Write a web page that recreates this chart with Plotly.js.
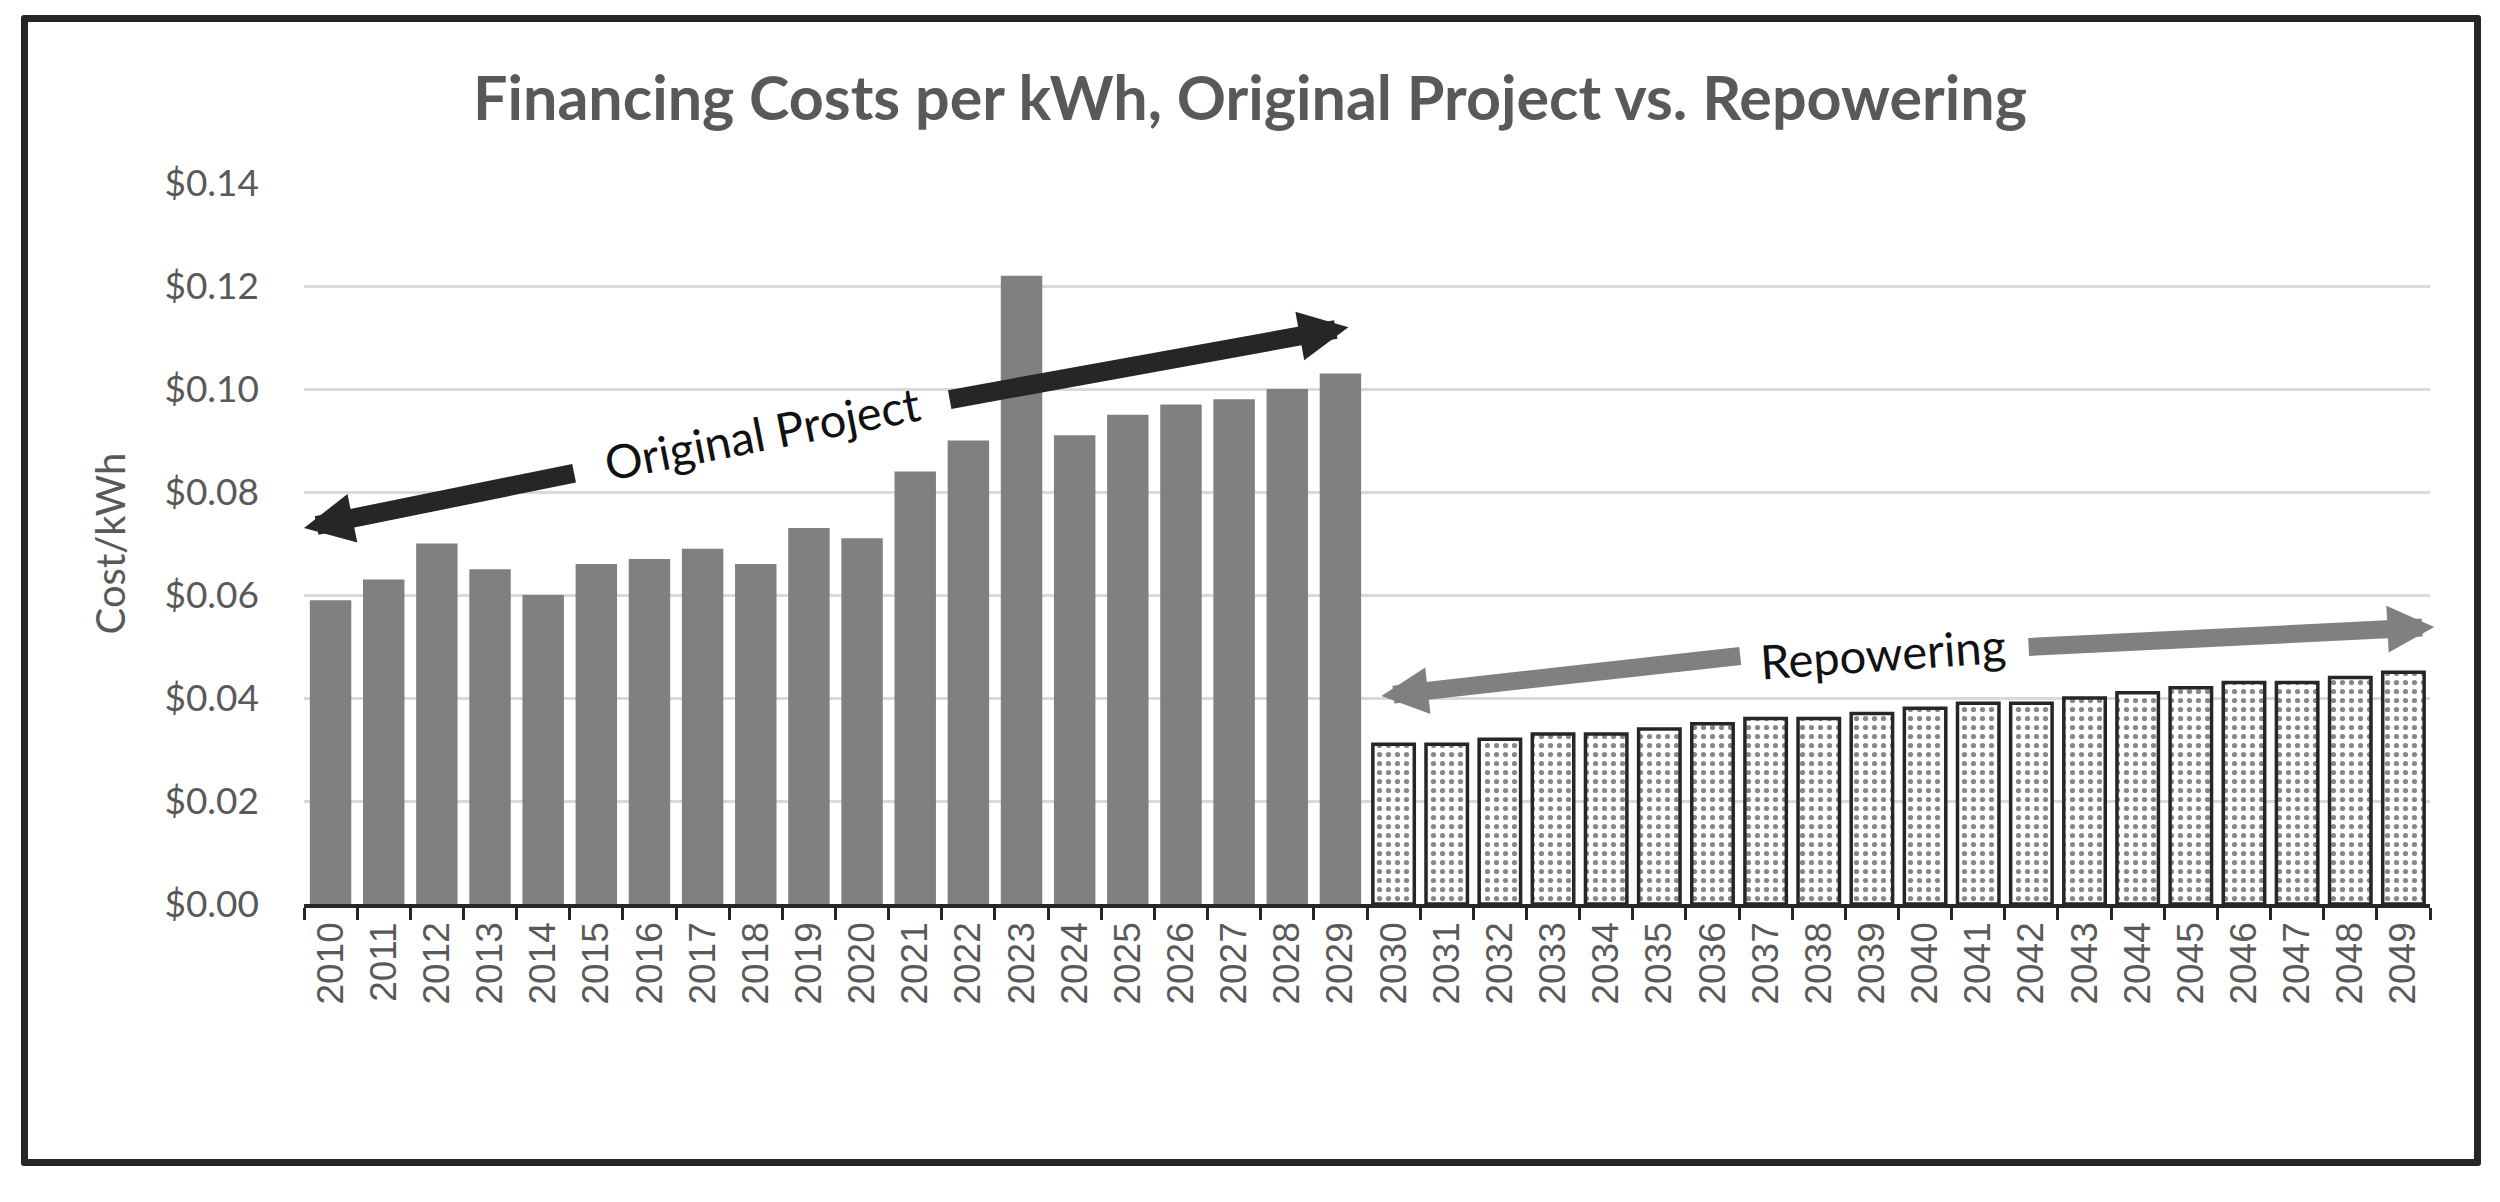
<!DOCTYPE html>
<html>
<head>
<meta charset="utf-8">
<script src="https://cdn.plot.ly/plotly-3.0.1.min.js"></script>
<style>
  html, body { margin: 0; padding: 0; background: #fff; }
  #chart { width: 2500px; height: 1202px; }
  #frame {
    position: absolute; left: 21px; top: 15px;
    width: 2446px; height: 1137px;
    border: 7px solid #262626; border-radius: 3px;
    pointer-events: none;
  }
</style>
</head>
<body>
<div id="chart"></div>
<div id="frame"></div>
<script>
// years and costs ($ per kWh)
const originalYears = ['2010', '2011', '2012', '2013', '2014', '2015', '2016', '2017', '2018', '2019',
                       '2020', '2021', '2022', '2023', '2024', '2025', '2026', '2027', '2028', '2029'];
const originalCost = [0.059, 0.063, 0.070, 0.065, 0.060, 0.066, 0.067, 0.069, 0.066, 0.073,
                      0.071, 0.084, 0.090, 0.122, 0.091, 0.095, 0.097, 0.098, 0.100, 0.103];

const repoweringYears = ['2030', '2031', '2032', '2033', '2034', '2035', '2036', '2037', '2038', '2039',
                         '2040', '2041', '2042', '2043', '2044', '2045', '2046', '2047', '2048', '2049'];
const repoweringCost = [0.031, 0.031, 0.032, 0.033, 0.033, 0.034, 0.035, 0.036, 0.036, 0.037,
                        0.038, 0.039, 0.039, 0.040, 0.041, 0.042, 0.043, 0.043, 0.044, 0.045];

const grey = '#595959';
const dark = '#262626';

const originalBars = {
    type: 'bar',
    x: originalYears,
    y: originalCost,
    name: 'Original Project',
    marker: { color: '#808080', line: { width: 0 } }
};

const repoweringBars = {
    type: 'bar',
    x: repoweringYears,
    y: repoweringCost,
    name: 'Repowering',
    marker: {
        color: '#ffffff',
        line: { color: dark, width: 3.5 },
        pattern: { shape: '.', fgcolor: '#888888', bgcolor: '#ffffff', size: 9, solidity: 0.26 }
    }
};

// double-headed arrows drawn as two half arrows with the label in the gap
function halfArrow(x, y, ax, ay, color, width) {
    return {
        x, y, ax, ay, xref: 'x', yref: 'y', axref: 'x', ayref: 'y',
        text: '', showarrow: true, arrowhead: 2, arrowsize: 0.52,
        arrowwidth: width, arrowcolor: color, standoff: 0, startstandoff: 0
    };
}

function arrowLabel(x, y, text, angle) {
    return {
        x, y, xref: 'x', yref: 'y', text, showarrow: false, textangle: angle,
        font: { family: 'Lato', size: 47, color: '#111111' }
    };
}

const annotations = [
    halfArrow(-0.5, 0.0730, 4.61, 0.0837, dark, 19),
    halfArrow(19.15, 0.1120, 11.62, 0.0979, dark, 19),
    arrowLabel(8.11, 0.0915, 'Original Project', -11),
    halfArrow(19.77, 0.0404, 26.55, 0.0482, '#808080', 18),
    halfArrow(39.58, 0.0538, 31.92, 0.0499, '#808080', 18),
    arrowLabel(29.21, 0.0487, 'Repowering', -4)
];

Plotly.newPlot('chart', [originalBars, repoweringBars], {
    width: 2500,
    height: 1202,
    margin: { l: 304, r: 70, t: 183, b: 298 },
    paper_bgcolor: '#ffffff',
    plot_bgcolor: '#ffffff',
    font: { family: 'Lato', color: grey },
    title: {
        text: '<b>Financing Costs per kWh, Original Project vs. Repowering</b>',
        font: { family: 'Lato', size: 61, color: grey },
        x: 0.5, xanchor: 'center', y: 0.918, yanchor: 'middle'
    },
    showlegend: false,
    barmode: 'overlay',
    bargap: 0.22,
    xaxis: {
        type: 'category',
        range: [-0.5, 39.5],
        tickangle: -90,
        tickfont: { family: 'Liberation Sans', size: 37, color: grey },
        ticks: 'outside',
        tickson: 'boundaries',
        ticklen: 12,
        tickwidth: 3,
        tickcolor: dark,
        showline: true,
        linecolor: dark,
        linewidth: 3.5,
        showgrid: false,
        zeroline: false
    },
    yaxis: {
        range: [0, 0.14],
        dtick: 0.02,
        tickformat: '$.2f',
        tickfont: { family: 'Lato', size: 37, color: grey },
        ticklabelstandoff: 44,
        showgrid: true,
        gridcolor: '#d9d9d9',
        gridwidth: 3,
        zeroline: false,
        showline: false,
        title: { text: 'Cost/kWh', font: { family: 'Lato', size: 40, color: grey }, standoff: 26 }
    },
    annotations
}, { staticPlot: true });
</script>
</body>
</html>
